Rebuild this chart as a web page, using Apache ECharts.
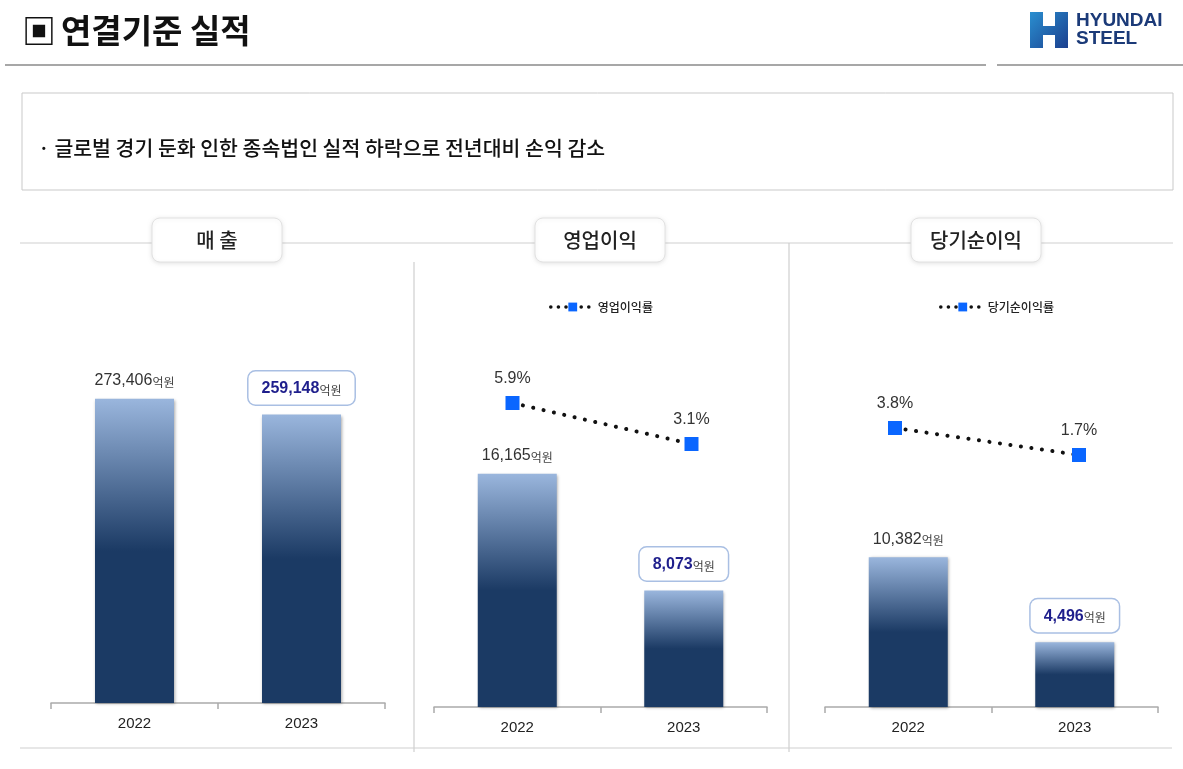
<!DOCTYPE html>
<html>
<head>
<meta charset="utf-8">
<script src="https://cdn.jsdelivr.net/npm/echarts@6.0.0/dist/echarts.min.js"></script>
<style>
  html,body{margin:0;padding:0;background:#fff;}
  #main{width:1183px;height:769px;}
</style>
</head>
<body>
<div id="main"></div>
<script>
// ---- data ----
var years = ['2022', '2023'];
var sales = [273406, 259148];        // 매출 (억원)
var opProfit = [16165, 8073];        // 영업이익 (억원)
var netProfit = [10382, 4496];       // 당기순이익 (억원)
var opMargin = [5.9, 3.1];           // 영업이익률 (%)
var netMargin = [3.8, 1.7];          // 당기순이익률 (%)
var panelTitles = ['매 출', '영업이익', '당기순이익'];
var marginNames = ['영업이익률', '당기순이익률'];
var titleMark = '▣';
var pageTitle = '연결기준 실적';
var summary = '· 글로벌 경기 둔화 인한 종속법인 실적 하락으로 전년대비 손익 감소';

var KR = '"Noto Sans CJK KR", "Noto Sans", sans-serif';
var NUM = '"Liberation Sans", Arial, sans-serif';

var barColor = new echarts.graphic.LinearGradient(0, 0, 0, 1, [
  {offset: 0, color: '#9ab6dd'},
  {offset: 0.5, color: '#1b3a64'},
  {offset: 1, color: '#1b3a64'}
]);

function fmt(v){ return v.toLocaleString('en-US'); }

var plainLabel = {
  show: true, position: 'top', distance: 10,
  formatter: function(p){ return '{n|' + fmt(p.value) + '}{u|억원}'; },
  rich: {
    n: {fontSize: 16, color: '#333', fontFamily: NUM},
    u: {fontSize: 12, color: '#444', fontFamily: KR, padding: [3, 0, 0, 0]}
  }
};
var boxLabel = {
  show: true, position: 'top', distance: 10,
  backgroundColor: '#fff', borderColor: '#a9bfe3', borderWidth: 1.5, borderRadius: 7,
  padding: [9, 13, 8, 13],
  formatter: function(p){ return '{n|' + fmt(p.value) + '}{u|억원}'; },
  rich: {
    n: {fontSize: 16, fontWeight: 'bold', color: '#1f1f8c', fontFamily: NUM},
    u: {fontSize: 12, color: '#444', fontFamily: KR, padding: [3, 0, 0, 0]}
  }
};

function barData(arr){
  return arr.map(function(v, i){
    return {value: v, label: i === arr.length - 1 ? boxLabel : plainLabel};
  });
}

function catAxis(idx, show){
  return {
    type: 'category', gridIndex: idx, data: years, show: show,
    axisLine: {lineStyle: {color: '#aaa', width: 1.5}},
    axisTick: {show: true, length: 6, lineStyle: {color: '#aaa', width: 1.5}},
    axisLabel: {fontSize: 15, color: '#222', fontFamily: NUM, margin: 13}
  };
}
function valAxis(idx, min, max){
  return {type: 'value', gridIndex: idx, min: min, max: max, show: false, splitLine: {show: false}};
}

function barSeries(idx, arr){
  return {
    type: 'bar', xAxisIndex: idx, yAxisIndex: idx, data: barData(arr),
    barWidth: 79,
    itemStyle: {color: barColor, shadowBlur: 3, shadowColor: 'rgba(0,0,0,0.35)', shadowOffsetX: 1, shadowOffsetY: 1},
    z: 2
  };
}
function lineSeries(idx, name, arr){
  return {
    type: 'line', name: name, xAxisIndex: idx, yAxisIndex: idx, data: arr,
    symbol: 'rect', symbolSize: 14,
    itemStyle: {color: '#0a66ff'},
    lineStyle: {color: '#111', width: 4, type: [0.1, 10.5], cap: 'round'},
    label: {show: true, position: 'top', distance: 9, fontSize: 16, color: '#333', fontFamily: NUM,
      formatter: function(p){ return p.value + '%'; }},
    z: 5
  };
}

function legendAt(name, left){
  return {
    data: [name], left: left, top: 296, itemWidth: 44, itemHeight: 11, itemGap: 4,
    lineStyle: {color: '#111', width: 3.5, type: [0.1, 7.5], cap: 'round'},
    textStyle: {fontSize: 12, fontWeight: 500, color: '#222', fontFamily: KR, padding: [0, 0, 0, -2]}
  };
}

function pill(cx, text){
  return {
    type: 'group', children: [
      {type: 'rect', shape: {x: cx - 65, y: 218, width: 130, height: 44, r: 8},
        style: {fill: '#fff', stroke: '#e2e2e2', lineWidth: 1, shadowBlur: 4, shadowColor: 'rgba(0,0,0,0.10)', shadowOffsetY: 1}},
      {type: 'text', x: cx, y: 240, style: {text: text, font: '500 20px ' + KR, fill: '#222',
        align: 'center', verticalAlign: 'middle', textAlign: 'center', textVerticalAlign: 'middle'}}
    ]
  };
}
function hline(x1, x2, y, color, w){
  return {type: 'line', shape: {x1: x1, y1: y, x2: x2, y2: y}, style: {stroke: color, lineWidth: w}};
}
function vline(x, y1, y2, color, w){
  return {type: 'line', shape: {x1: x, y1: y1, x2: x, y2: y2}, style: {stroke: color, lineWidth: w}};
}

var chart = echarts.init(document.getElementById('main'));
chart.setOption({
  animation: false,
  backgroundColor: '#fff',
  legend: [legendAt(marginNames[0], 544), legendAt(marginNames[1], 934)],
  grid: [
    {left: 51, width: 334, top: 280, height: 423},
    {left: 434, width: 333, top: 280, height: 427},
    {left: 825, width: 333, top: 280, height: 427},
    {left: 423, width: 358, top: 280, height: 426},
    {left: 803, width: 368, top: 280, height: 426}
  ],
  xAxis: [catAxis(0, true), catAxis(1, true), catAxis(2, true), catAxis(3, false), catAxis(4, false)],
  yAxis: [
    valAxis(0, 0, 380000),
    valAxis(1, 0, 29600),
    valAxis(2, 0, 29600),
    valAxis(3, -14.79, 14.30),
    valAxis(4, -17.82, 15.31)
  ],
  series: [
    barSeries(0, sales),
    barSeries(1, opProfit),
    barSeries(2, netProfit),
    lineSeries(3, marginNames[0], opMargin),
    lineSeries(4, marginNames[1], netMargin)
  ],
  graphic: [
    // page title
    {type: 'text', x: 22, y: 31, style: {text: titleMark, font: 'bold 34px ' + KR, fill: '#111',
      verticalAlign: 'middle', textVerticalAlign: 'middle'}},
    {type: 'text', x: 61, y: 30, style: {text: pageTitle, font: 'bold 33px ' + KR, fill: '#111',
      verticalAlign: 'middle', textVerticalAlign: 'middle'}},
    hline(5, 986, 65, '#8a8a8a', 1.5),
    hline(997, 1183, 65, '#8a8a8a', 1.5),
    // logo
    {type: 'polygon', shape: {points: [[1030,12],[1043,12],[1043,26],[1055,26],[1055,12],[1068,12],[1068,48],[1055,48],[1055,35],[1043,35],[1043,48],[1030,48]]},
      style: {fill: new echarts.graphic.LinearGradient(0, 0, 1, 1, [{offset: 0, color: '#2a8fd0'}, {offset: 1, color: '#1b3f8e'}])}},
    {type: 'text', x: 1076, y: 21, style: {text: 'HYUNDAI', font: 'bold 19px ' + NUM, fill: '#1b3a78', verticalAlign: 'middle', textVerticalAlign: 'middle'}},
    {type: 'text', x: 1076, y: 39, style: {text: 'STEEL', font: 'bold 19px ' + NUM, fill: '#1b3a78', verticalAlign: 'middle', textVerticalAlign: 'middle'}},
    // summary box
    {type: 'rect', shape: {x: 22, y: 93, width: 1151, height: 97}, style: {fill: '#fff', stroke: '#c9c9c9', lineWidth: 1}},
    {type: 'text', x: 38, y: 148, style: {text: summary, font: '500 20.5px ' + KR, fill: '#111',
      verticalAlign: 'middle', textVerticalAlign: 'middle'}},
    // panel frame lines
    hline(20, 1173, 243, '#cfcfcf', 1.2),
    vline(414, 262, 752, '#cfcfcf', 1.2),
    vline(789, 243, 752, '#cfcfcf', 1.2),
    hline(20, 1172, 748, '#cfcfcf', 1.2),
    pill(217, panelTitles[0]),
    pill(600, panelTitles[1]),
    pill(976, panelTitles[2])
  ]
});
</script>
</body>
</html>
